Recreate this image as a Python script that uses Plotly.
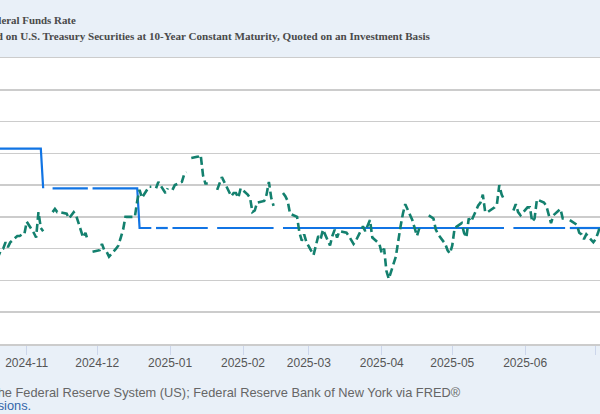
import pandas as pd
import plotly.graph_objects as go

N = None

# business days (Mon-Fri) from 2024-10-17 to 2025-07-03; None = market holiday
dates = pd.bdate_range("2024-10-17", "2025-07-03")

# Market Yield on U.S. Treasury Securities at 10-Year Constant Maturity (percent)
dgs10 = [
    4.09, 4.08,
    4.19, 4.20, 4.24, 4.21, 4.24,   # Oct 21
    4.28, 4.28, 4.29, 4.29, 4.37,   # Oct 28
    4.30, 4.27, 4.43, 4.33, 4.31,   # Nov 4
    N,    4.43, 4.45, 4.43, 4.43,   # Nov 11
    4.42, 4.39, 4.41, 4.43, 4.41,   # Nov 18
    4.27, 4.30, 4.25, N,    4.18,   # Nov 25
    4.19, 4.23, 4.19, 4.18, 4.15,   # Dec 2
    4.20, 4.22, 4.27, 4.32, 4.40,   # Dec 9
    4.40, 4.40, 4.50, 4.57, 4.52,   # Dec 16
    4.59, 4.59, N,    4.58, 4.62,   # Dec 23
    4.55, 4.58, N,    4.57, 4.60,   # Dec 30
    4.62, 4.67, 4.68, N,    4.77,   # Jan 6
    4.78, 4.79, 4.66, 4.61, 4.61,   # Jan 13
    N,    4.57, 4.61, 4.65, 4.62,   # Jan 20
    4.53, 4.55, 4.55, 4.52, 4.58,   # Jan 27
    4.54, 4.52, 4.43, 4.44, 4.49,   # Feb 3
    4.50, 4.54, 4.62, 4.52, 4.47,   # Feb 10
    N,    4.55, 4.53, 4.50, 4.42,   # Feb 17
    4.40, 4.30, 4.25, 4.29, 4.24,   # Feb 24
    4.16, 4.22, 4.28, 4.26, 4.32,   # Mar 3
    4.22, 4.28, 4.32, 4.27, 4.31,   # Mar 10
    4.30, 4.28, 4.25, 4.23, 4.25,   # Mar 17
    4.34, 4.31, 4.35, 4.38, 4.27,   # Mar 24
    4.23, 4.17, 4.20, 4.06, 4.01,   # Mar 31
    4.15, 4.26, 4.34, 4.42, 4.48,   # Apr 7
    4.38, 4.33, 4.28, 4.33, N,      # Apr 14
    4.41, 4.40, 4.39, 4.32, 4.29,   # Apr 21
    4.23, 4.19, 4.17, 4.22, 4.33,   # Apr 28
    4.36, 4.30, 4.27, 4.39, 4.37,   # May 5
    4.47, 4.49, 4.54, 4.43, 4.43,   # May 12
    4.46, 4.48, 4.60, 4.54, 4.51,   # May 19
    N,    4.44, 4.48, 4.43, 4.41,   # May 26
    4.46, 4.46, 4.37, 4.39, 4.51,   # Jun 2
    4.49, 4.47, 4.41, 4.36, 4.41,   # Jun 9
    4.45, 4.39, 4.39, N,    4.38,   # Jun 16
    4.35, 4.30, 4.29, 4.26, 4.29,   # Jun 23
    4.24, 4.26, 4.30, 4.35,         # Jun 30
]

# Effective Federal Funds Rate (percent)
effr = [
    4.83, 4.83,
    4.83, 4.83, 4.83, 4.83, 4.83,   # Oct 21
    4.83, 4.83, 4.83, 4.83, 4.83,   # Oct 28
    4.83, 4.83, 4.83, 4.83, 4.58,   # Nov 4
    N,    4.58, 4.58, 4.58, 4.58,   # Nov 11
    4.58, 4.58, 4.58, 4.58, 4.58,   # Nov 18
    4.58, 4.58, 4.58, N,    4.58,   # Nov 25
    4.58, 4.58, 4.58, 4.58, 4.58,   # Dec 2
    4.58, 4.58, 4.58, 4.58, 4.58,   # Dec 9
    4.58, 4.58, 4.58, 4.33, 4.33,   # Dec 16
    4.33, 4.33, N,    4.33, 4.33,   # Dec 23
    4.33, 4.33, N,    4.33, 4.33,   # Dec 30
    4.33, 4.33, 4.33, 4.33, 4.33,   # Jan 6
    4.33, 4.33, 4.33, 4.33, 4.33,   # Jan 13
    N,    4.33, 4.33, 4.33, 4.33,   # Jan 20
    4.33, 4.33, 4.33, 4.33, 4.33,   # Jan 27
    4.33, 4.33, 4.33, 4.33, 4.33,   # Feb 3
    4.33, 4.33, 4.33, 4.33, 4.33,   # Feb 10
    N,    4.33, 4.33, 4.33, 4.33,   # Feb 17
    4.33, 4.33, 4.33, 4.33, 4.33,   # Feb 24
    4.33, 4.33, 4.33, 4.33, 4.33,   # Mar 3
    4.33, 4.33, 4.33, 4.33, 4.33,   # Mar 10
    4.33, 4.33, 4.33, 4.33, 4.33,   # Mar 17
    4.33, 4.33, 4.33, 4.33, 4.33,   # Mar 24
    4.33, 4.33, 4.33, 4.33, 4.33,   # Mar 31
    4.33, 4.33, 4.33, 4.33, 4.33,   # Apr 7
    4.33, 4.33, 4.33, 4.33, 4.33,   # Apr 14
    4.33, 4.33, 4.33, 4.33, 4.33,   # Apr 21
    4.33, 4.33, 4.33, 4.33, 4.33,   # Apr 28
    4.33, 4.33, 4.33, 4.33, 4.33,   # May 5
    4.33, 4.33, 4.33, 4.33, 4.33,   # May 12
    4.33, 4.33, 4.33, 4.33, 4.33,   # May 19
    N,    4.33, 4.33, 4.33, 4.33,   # May 26
    4.33, 4.33, 4.33, 4.33, 4.33,   # Jun 2
    4.33, 4.33, 4.33, 4.33, 4.33,   # Jun 9
    4.33, 4.33, 4.33, N,    4.33,   # Jun 16
    4.33, 4.33, 4.33, 4.33, 4.33,   # Jun 23
    4.33, 4.33, 4.33, 4.33,         # Jun 30
]

assert len(dates) == len(dgs10) == len(effr)

legend_labels = [
    "Effective Federal Funds Rate",
    "Market Yield on U.S. Treasury Securities at 10-Year Constant Maturity, Quoted on an Investment Basis",
]
source_text = "Source: Board of Governors of the Federal Reserve System (US); Federal Reserve Bank of New York via FRED\u00ae"

BLUE = "#1174e4"
GREEN = "#13806e"
BG = "#e9f0f8"

fig = go.Figure()
fig.add_trace(go.Scatter(
    x=dates, y=effr, mode="lines", connectgaps=False,
    line=dict(color=BLUE, width=2.2), name=legend_labels[0], hoverinfo="skip",
))
fig.add_trace(go.Scatter(
    x=dates, y=dgs10, mode="lines", connectgaps=False,
    line=dict(color=GREEN, width=2.6, dash="8px,4px"), name=legend_labels[1], hoverinfo="skip",
))

PT, PB = 58, 344
PH = PB - PT


def ypaper(py):
    return (PB - py) / PH


ann = []
ann.append(dict(text="<b>" + legend_labels[0] + "</b>", x=78 / 600, y=ypaper(20),
                xref="paper", yref="paper", xanchor="right", yanchor="middle", showarrow=False,
                font=dict(family="Liberation Serif", size=10.9, color="#4a4a4a")))
ann.append(dict(text="<b>" + legend_labels[1] + "</b>", x=433 / 600, y=ypaper(36),
                xref="paper", yref="paper", xanchor="right", yanchor="middle", showarrow=False,
                font=dict(family="Liberation Serif", size=11.1, color="#4a4a4a")))
ann.append(dict(text=source_text, x=463 / 600, y=ypaper(392),
                xref="paper", yref="paper", xanchor="right", yanchor="middle", showarrow=False,
                font=dict(family="Liberation Sans", size=12.8, color="#666666")))
ann.append(dict(text="Shaded areas indicate U.S. <span style='color:#3366aa'>recessions.</span>",
                x=33 / 600, y=ypaper(405),
                xref="paper", yref="paper", xanchor="right", yanchor="middle", showarrow=False,
                font=dict(family="Liberation Sans", size=12.8, color="#666666")))

fig.update_layout(
    width=600, height=414,
    margin=dict(l=0, r=0, t=PT, b=414 - PB, pad=0),
    paper_bgcolor=BG, plot_bgcolor="white",
    showlegend=False,
    annotations=ann,
    xaxis=dict(
        range=["2024-10-20 15:20", "2025-07-02 20:00"],
        tick0="2024-11-01", dtick="M1", tickformat="%Y-%m",
        ticks="outside", ticklen=9, tickwidth=1, tickcolor="#ccd6eb",
        ticklabelstandoff=-2,
        showgrid=False, zeroline=False,
        showline=True, linecolor="#cccccc", linewidth=1.5, mirror=True,
        tickfont=dict(family="Liberation Sans", size=12, color="#555555"),
    ),
    yaxis=dict(
        range=[3.6, 5.4], dtick=0.2, tick0=3.6,
        showticklabels=False, ticks="",
        showgrid=True, gridcolor="#cccccc", gridwidth=1.5, zeroline=False,
    ),
)

fig.write_html(
    "out.html",
    config={"displayModeBar": False, "staticPlot": True},
    post_script="document.body.style.margin='0';document.body.style.overflow='hidden';",
)
